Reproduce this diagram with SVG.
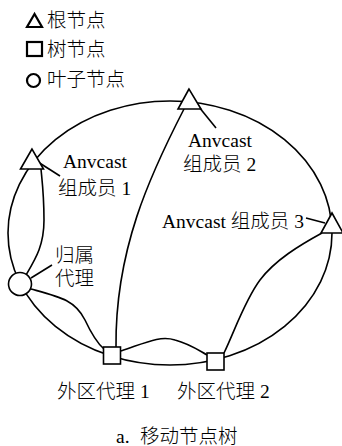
<svg xmlns="http://www.w3.org/2000/svg" width="342" height="446" viewBox="0 0 342 446">
<style>
.t{font-family:"Liberation Serif","Noto Sans CJK SC",serif;font-size:19.5px;font-weight:300;fill:#000}
.ln{fill:none;stroke:#000;stroke-width:1.6}
.nd{fill:#fff;stroke:#000;stroke-width:1.6}
.lg{fill:#fff;stroke:#000;stroke-width:2.2}
</style>
<rect width="342" height="446" fill="#fff"/>
<g id="legend">
<polygon class="lg" points="34.5,14 27,27 42,27"/>
<text class="t" x="47" y="27">根节点</text>
<rect class="lg" x="27" y="42" width="15" height="14"/>
<text class="t" x="47" y="56">树节点</text>
<circle class="lg" cx="33.5" cy="80.5" r="6.5"/>
<text class="t" x="47" y="86">叶子节点</text>
</g>
<g id="connectors">
<ellipse class="ln" cx="170" cy="233" rx="162" ry="132"/>
<path class="ln" d="M26,275 C36,258 44,245 44,220 C44,195 42,180 41,169"/>
<path class="ln" d="M184,109 C150,175 115,250 116,347"/>
<path class="ln" d="M31,289 C60,297 75,300 85,320 C92,335 97,343 104,349"/>
<path class="ln" d="M121,351 C145,343 160,335 175,340 C190,344 198,350 207,355"/>
<path class="ln" d="M224,353 C235,330 245,300 260,280 C275,260 300,245 322,233"/>
<path class="ln" d="M38,162 L60,176"/>
<path class="ln" d="M199,107 L216,128"/>
<path class="ln" d="M306,218 L325,223"/>
<path class="ln" d="M31,278 L52,265"/>
</g>
<g id="root">
<polygon class="nd" points="189,89 178,109 201,109"/>
<text class="t" x="188" y="147">Anvcast</text>
<text class="t" x="183" y="171">组成员 2</text>
</g>
<g id="member1">
<polygon class="nd" points="32,149 20.5,169 43.5,169"/>
<text class="t" x="63" y="168">Anvcast</text>
<text class="t" x="58" y="195">组成员 1</text>
</g>
<g id="member3">
<polygon class="nd" points="332,213 321,233 343,233"/>
<text class="t" x="162" y="228">Anvcast 组成员 3</text>
</g>
<g id="home">
<circle class="nd" cx="20" cy="284" r="11.5"/>
<text class="t" x="55" y="262">归属</text>
<text class="t" x="55" y="285">代理</text>
</g>
<g id="foreign1">
<rect class="nd" x="103.5" y="347" width="17" height="17"/>
<text class="t" x="57" y="398">外区代理 1</text>
</g>
<g id="foreign2">
<rect class="nd" x="207" y="353" width="17" height="17"/>
<text class="t" x="177" y="398">外区代理 2</text>
</g>
<g id="caption">
<text class="t" x="116" y="443">a.<tspan x="140">移动节点树</tspan></text>
</g>
</svg>
